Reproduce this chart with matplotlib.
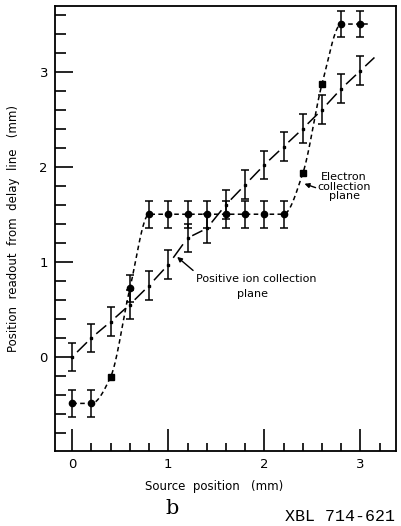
#!/usr/bin/env python3
import numpy as np
import matplotlib
matplotlib.use('Agg')
import matplotlib.pyplot as plt
from matplotlib.ticker import MultipleLocator

plt.rcParams['font.family'] = 'DejaVu Sans'
plt.rcParams['font.size'] = 9

# source positions (mm)
source_pos = [0.0, 0.2, 0.4, 0.6, 0.8, 1.0, 1.2, 1.4, 1.6, 1.8, 2.0, 2.2, 2.4, 2.6, 2.8, 3.0]
# readout, positive ion collection plane
ion_readout = [0.0, 0.2, 0.37, 0.55, 0.75, 0.97, 1.25, 1.35, 1.6, 1.81, 2.02, 2.21, 2.4, 2.6, 2.82, 3.01]
# readout, electron collection plane
elec_readout = [-0.49, -0.49, -0.21, 0.72, 1.5, 1.5, 1.5, 1.5, 1.5, 1.5, 1.5, 1.5, 1.93, 2.87, 3.5, 3.5]
# which electron points are drawn as squares (no error bar)
elec_square = [False, False, True, False, False, False, False, False, False, False, False, False, True, True, False, False]
err = 0.14


def pchip(x, y, xs):
    x = np.asarray(x, float)
    y = np.asarray(y, float)
    h = np.diff(x)
    d = np.diff(y) / h
    m = np.zeros_like(y)
    m[0], m[-1] = d[0], d[-1]
    for k in range(1, len(x) - 1):
        if d[k - 1] * d[k] > 0:
            w1 = 2 * h[k] + h[k - 1]
            w2 = h[k] + 2 * h[k - 1]
            m[k] = (w1 + w2) / (w1 / d[k - 1] + w2 / d[k])
    idx = np.clip(np.searchsorted(x, xs) - 1, 0, len(x) - 2)
    t = (xs - x[idx]) / h[idx]
    h00 = 2 * t**3 - 3 * t**2 + 1
    h10 = t**3 - 2 * t**2 + t
    h01 = -2 * t**3 + 3 * t**2
    h11 = t**3 - t**2
    return h00 * y[idx] + h10 * h[idx] * m[idx] + h01 * y[idx + 1] + h11 * h[idx] * m[idx + 1]


def main():
    fig = plt.figure(figsize=(4.01, 5.26), dpi=100)
    ax = fig.add_axes([0.137, 0.1426, 0.8505, 0.846])

    xs = np.asarray(source_pos)
    ion = np.asarray(ion_readout)
    el = np.asarray(elec_readout)
    sq = np.asarray(elec_square)

    # electron plane: smooth dashed curve
    xf = np.linspace(xs[0], xs[-1], 600)
    ax.plot(xf, pchip(xs, el, xf), color='black', lw=1.1, dashes=(3, 2.2))
    ax.plot([xs[-1], xs[-1] + 0.07], [el[-1], el[-1]], color='black', lw=1.1)
    ax.errorbar(xs[~sq], el[~sq], yerr=err, fmt='o', color='black', ms=4.5,
                elinewidth=1.1, capsize=3, capthick=1.1)
    ax.plot(xs[sq], el[sq], 's', color='black', ms=3.8)

    # positive ion plane: one dash between neighbouring points
    for i in range(len(xs) - 1):
        dx, dy = xs[i + 1] - xs[i], ion[i + 1] - ion[i]
        ax.plot([xs[i] + 0.28 * dx, xs[i] + 0.74 * dx],
                [ion[i] + 0.28 * dy, ion[i] + 0.74 * dy], color='black', lw=1.1)
    dx, dy = xs[-1] - xs[-2], ion[-1] - ion[-2]
    ax.plot([xs[-1] + 0.28 * dx, xs[-1] + 0.7 * dx],
            [ion[-1] + 0.28 * dy, ion[-1] + 0.7 * dy], color='black', lw=1.1)
    ax.errorbar(xs, ion, yerr=err + 0.01, fmt='s', color='black', ms=2,
                elinewidth=1.1, capsize=3, capthick=1.1)

    # annotations
    ax.annotate('', xy=(1.07, 1.07), xytext=(1.28, 0.89),
                arrowprops=dict(arrowstyle='-|>', color='black', lw=1.0,
                                mutation_scale=7))
    ax.text(1.29, 0.82, 'Positive ion collection', fontsize=8, va='center', ha='left')
    ax.text(1.88, 0.66, 'plane', fontsize=8, va='center', ha='center')
    ax.annotate('', xy=(2.39, 1.83), xytext=(2.56, 1.77),
                arrowprops=dict(arrowstyle='-|>', color='black', lw=1.0,
                                mutation_scale=7))
    ax.text(2.83, 1.79, 'Electron\ncollection\nplane', fontsize=8, va='center',
            ha='center', linespacing=0.95)

    ax.set_xlim(-0.18, 3.37)
    ax.set_ylim(-0.99, 3.69)
    ax.xaxis.set_major_locator(MultipleLocator(1))
    ax.xaxis.set_minor_locator(MultipleLocator(0.2))
    ax.yaxis.set_major_locator(MultipleLocator(1))
    ax.yaxis.set_minor_locator(MultipleLocator(0.2))
    ax.tick_params(which='both', direction='in', top=False, right=False, width=1.2)
    ax.tick_params(axis='x', which='major', length=16, pad=5, labelsize=9.5)
    ax.tick_params(axis='x', which='minor', length=6)
    ax.tick_params(axis='y', which='major', length=13, pad=5, labelsize=9.5)
    ax.tick_params(axis='y', which='minor', length=8)
    for s in ax.spines.values():
        s.set_linewidth(1.3)

    ax.set_ylabel('Position  readout  from  delay  line   (mm)', fontsize=8.5, labelpad=14)
    fig.text(0.535, 0.075, 'Source  position   (mm)', fontsize=8.5, ha='center', va='center')
    fig.text(0.43, 0.033, 'b', fontsize=15, family='DejaVu Serif', ha='center', va='center')
    fig.text(0.985, 0.018, 'XBL 714-621', fontsize=12, family='Liberation Mono',
             ha='right', va='center')

    fig.savefig('out.png', dpi=100)


if __name__ == '__main__':
    main()
